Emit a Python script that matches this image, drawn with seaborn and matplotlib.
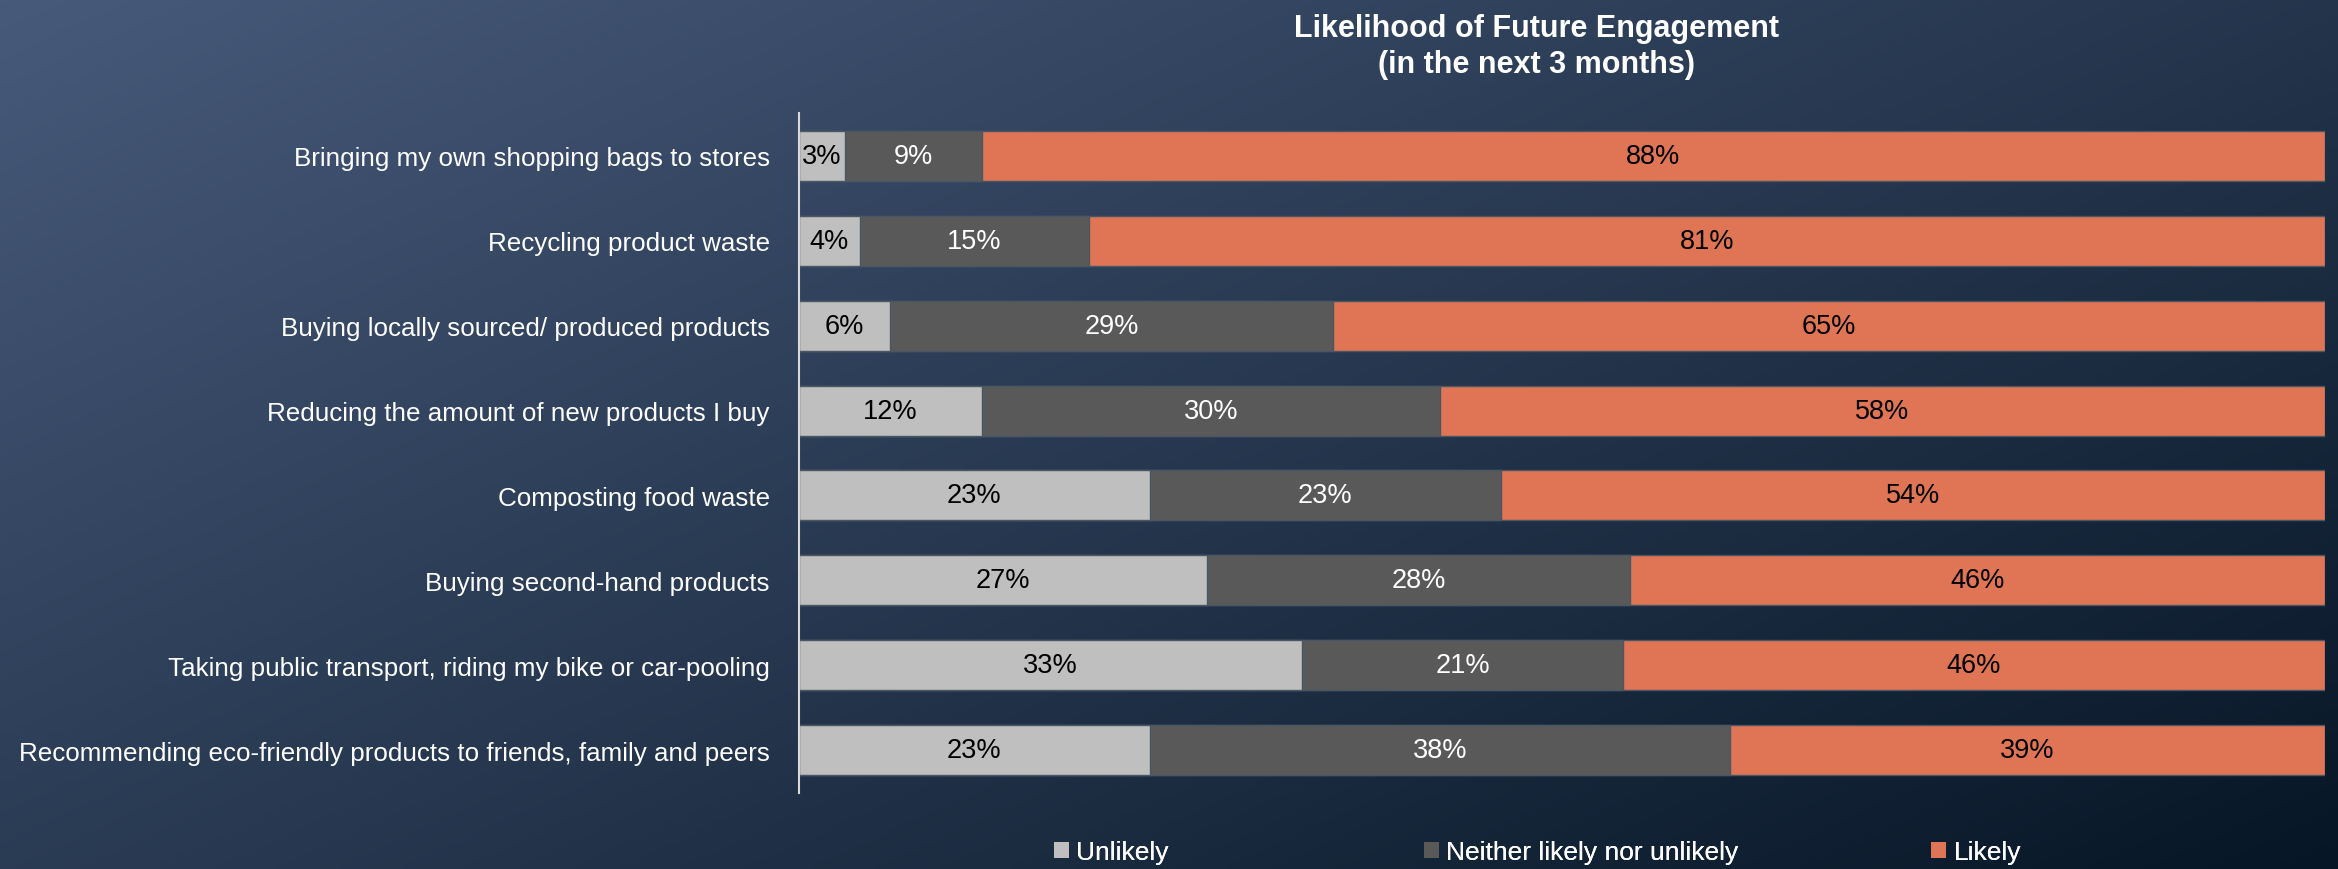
import numpy as np
import pandas as pd
import matplotlib
matplotlib.use('Agg')
import matplotlib.pyplot as plt
from matplotlib.patches import Patch
import seaborn as sns

categories = [
    'Bringing my own shopping bags to stores',
    'Recycling product waste',
    'Buying locally sourced/ produced products',
    'Reducing the amount of new products I buy',
    'Composting food waste',
    'Buying second-hand products',
    'Taking public transport, riding my bike or car-pooling',
    'Recommending eco-friendly products to friends, family and peers',
]
unlikely = [3, 4, 6, 12, 23, 27, 33, 23]
neither = [9, 15, 29, 30, 23, 28, 21, 38]
likely = [88, 81, 65, 58, 54, 46, 46, 39]
series_names = ['Unlikely', 'Neither likely nor unlikely', 'Likely']
series_colors = ['#bfbfbf', '#595959', '#df7555']
label_colors = ['black', 'white', 'black']

sns.set_style('white')
plt.rcParams['font.family'] = ['Liberation Sans', 'DejaVu Sans']

df = pd.DataFrame({'cat': categories, 'Unlikely': unlikely,
                   'Neither likely nor unlikely': neither, 'Likely': likely})
tot = df[series_names].sum(axis=1)
share = df[series_names].div(tot, axis=0) * 100
cum = share.cumsum(axis=1)

fig = plt.figure(figsize=(23.38, 8.7), dpi=100)

# gradient background
bg = fig.add_axes([0, 0, 1, 1], zorder=-10)
xx, yy = np.meshgrid(np.linspace(0, 1, 400), np.linspace(0, 1, 200))
t = np.clip((xx * 0.55 + yy * 0.45), 0, 1)
c0 = np.array([71, 90, 122]) / 255
c1 = np.array([7, 22, 38]) / 255
img = c0[None, None, :] * (1 - t[..., None]) + c1[None, None, :] * t[..., None]
bg.imshow(img, aspect='auto', extent=[0, 1, 0, 1], origin='upper')
bg.axis('off')

ax = fig.add_axes([0.3417, 0.0879, 0.6527, 0.7805])
ax.set_facecolor('none')

for name, col in zip(reversed(series_names), reversed(series_colors)):
    sns.barplot(x=cum[name], y=df['cat'], orient='h', color=col, width=0.59,
                saturation=1, edgecolor='#4a5663', linewidth=1, ax=ax)

for i in range(len(categories)):
    left = 0
    for name, lc in zip(series_names, label_colors):
        w = share.loc[i, name]
        ax.text(left + w / 2, i, f'{df.loc[i, name]}%', ha='center', va='center',
                color=lc, fontsize=19.5)
        left += w

ax.set_xlim(0, 100)
ax.set_ylim(len(categories) - 0.5, -0.5)
ax.set_xlabel('')
ax.set_ylabel('')
ax.set_xticks([])
ax.tick_params(axis='y', length=0, pad=21, labelsize=18.7, labelcolor='white')
for s in ['top', 'right', 'bottom']:
    ax.spines[s].set_visible(False)
ax.spines['left'].set_color('#d9d9d9')
ax.spines['left'].set_linewidth(1.5)

fig.text(0.657, 0.946, 'Likelihood of Future Engagement\n(in the next 3 months)',
         ha='center', va='center', color='white', fontsize=22, fontweight='bold',
         linespacing=1.3)

leg_x = [1054 / 2338, 1424 / 2338, 1931 / 2338]
for name, col, x in zip(series_names, series_colors, leg_x):
    lg = fig.legend(handles=[Patch(facecolor=col, edgecolor='none')], labels=[name],
                    loc='center left', bbox_to_anchor=(x, 1 - 853 / 870),
                    frameon=False, fontsize=19, labelcolor='white',
                    handlelength=0.55, handleheight=0.55, handletextpad=0.3,
                    borderpad=0, borderaxespad=0)
    fig.add_artist(lg)

fig.savefig('out.png', dpi=100)
